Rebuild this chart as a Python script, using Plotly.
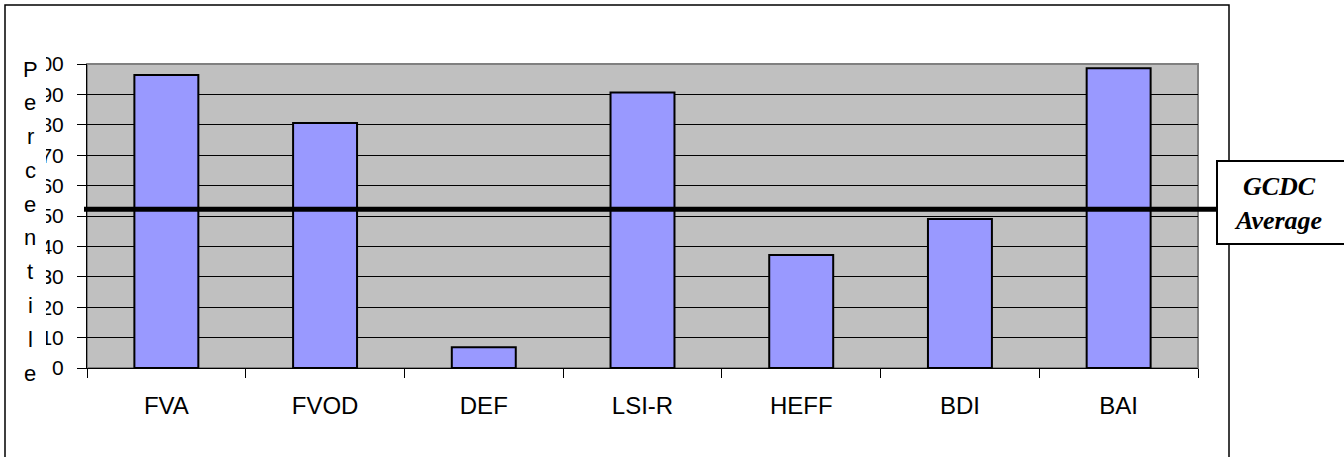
import plotly.graph_objects as go

categories = ["FVA", "FVOD", "DEF", "LSI-R", "HEFF", "BDI", "BAI"]
percentiles = [96.4, 80.6, 6.8, 90.6, 37.2, 49.0, 98.6]
gcdc_average = 52.2
y_ticks = [0, 10, 20, 30, 40, 50, 60, 70, 80, 90, 100]
y_title = "Percentile"
avg_label = "GCDC<br>Average"

W, H = 1344, 457
L, R, T, B = 87, 1198, 64, 368  # plot area in pixels


def px(x):
    return (x - L) / (R - L)


def py(y):
    return (B - y) / (B - T)


fig = go.Figure()
fig.add_trace(go.Bar(
    x=categories, y=percentiles, width=0.403,
    marker=dict(color="#9999FF", line=dict(color="black", width=2)),
    hoverinfo="x+y",
))

shapes = []
# outer chart border
shapes.append(dict(type="rect", xref="paper", yref="paper",
                   x0=px(5), x1=px(1229), y0=py(475), y1=py(5),
                   line=dict(color="black", width=1.5), layer="below"))
# plot area border (grey)
shapes.append(dict(type="rect", xref="paper", yref="paper",
                   x0=0, x1=1, y0=0, y1=1,
                   line=dict(color="#808080", width=2), layer="below"))
# white mask clipping the tick labels
shapes.append(dict(type="rect", xref="paper", yref="paper",
                   x0=px(7), x1=px(46), y0=py(390), y1=py(50),
                   fillcolor="white", line=dict(width=0), layer="above"))
# GCDC average line
shapes.append(dict(type="line", xref="paper", yref="y",
                   x0=px(84), x1=px(1217), y0=gcdc_average, y1=gcdc_average,
                   line=dict(color="black", width=5), layer="above"))
# label box
shapes.append(dict(type="rect", xref="paper", yref="paper",
                   x0=px(1217), x1=px(1360), y0=py(244), y1=py(161),
                   fillcolor="white", line=dict(color="black", width=2), layer="above"))

annotations = []
n = len(y_title)
for i, ch in enumerate(y_title):
    yc = 69 + i * (373 - 69) / (n - 1)
    annotations.append(dict(text=ch, xref="paper", yref="paper",
                            x=px(30), y=py(yc), showarrow=False,
                            xanchor="center", yanchor="middle",
                            font=dict(family="Liberation Sans, Arial", size=22, color="black")))
annotations.append(dict(text="<b><i>" + avg_label + "</i></b>", xref="paper", yref="paper",
                        x=px(1278), y=py(203), showarrow=False,
                        xanchor="center", yanchor="middle", align="center",
                        font=dict(family="Liberation Serif, Times New Roman", size=26, color="black")))

fig.update_layout(
    width=W, height=H,
    margin=dict(l=L, r=W - R, t=T, b=H - B, pad=0),
    paper_bgcolor="white", plot_bgcolor="#C0C0C0",
    showlegend=False, bargap=0.6,
    shapes=shapes, annotations=annotations,
    font=dict(family="Liberation Sans, Arial", color="black"),
)
fig.update_yaxes(range=[0, 100], tickvals=y_ticks, ticktext=[str(v) for v in y_ticks],
                 showgrid=True, gridcolor="black", gridwidth=1,
                 ticks="outside", ticklen=9, tickcolor="black", tickwidth=1,
                 ticklabelstandoff=9,
                 showline=True, linecolor="black", linewidth=1,
                 tickfont=dict(size=21, family="Liberation Sans, Arial"),
                 zeroline=False, fixedrange=True)
fig.update_xaxes(type="category", ticks="outside", tickson="boundaries",
                 ticklen=9, tickcolor="black", tickwidth=1,
                 showline=True, linecolor="black", linewidth=1,
                 tickfont=dict(size=24, family="Liberation Sans, Arial"),
                 ticklabelstandoff=16, showgrid=False, fixedrange=True)

fig.write_html("out.html", config={"displayModeBar": False},
               post_script="document.body.style.margin='0px';")
